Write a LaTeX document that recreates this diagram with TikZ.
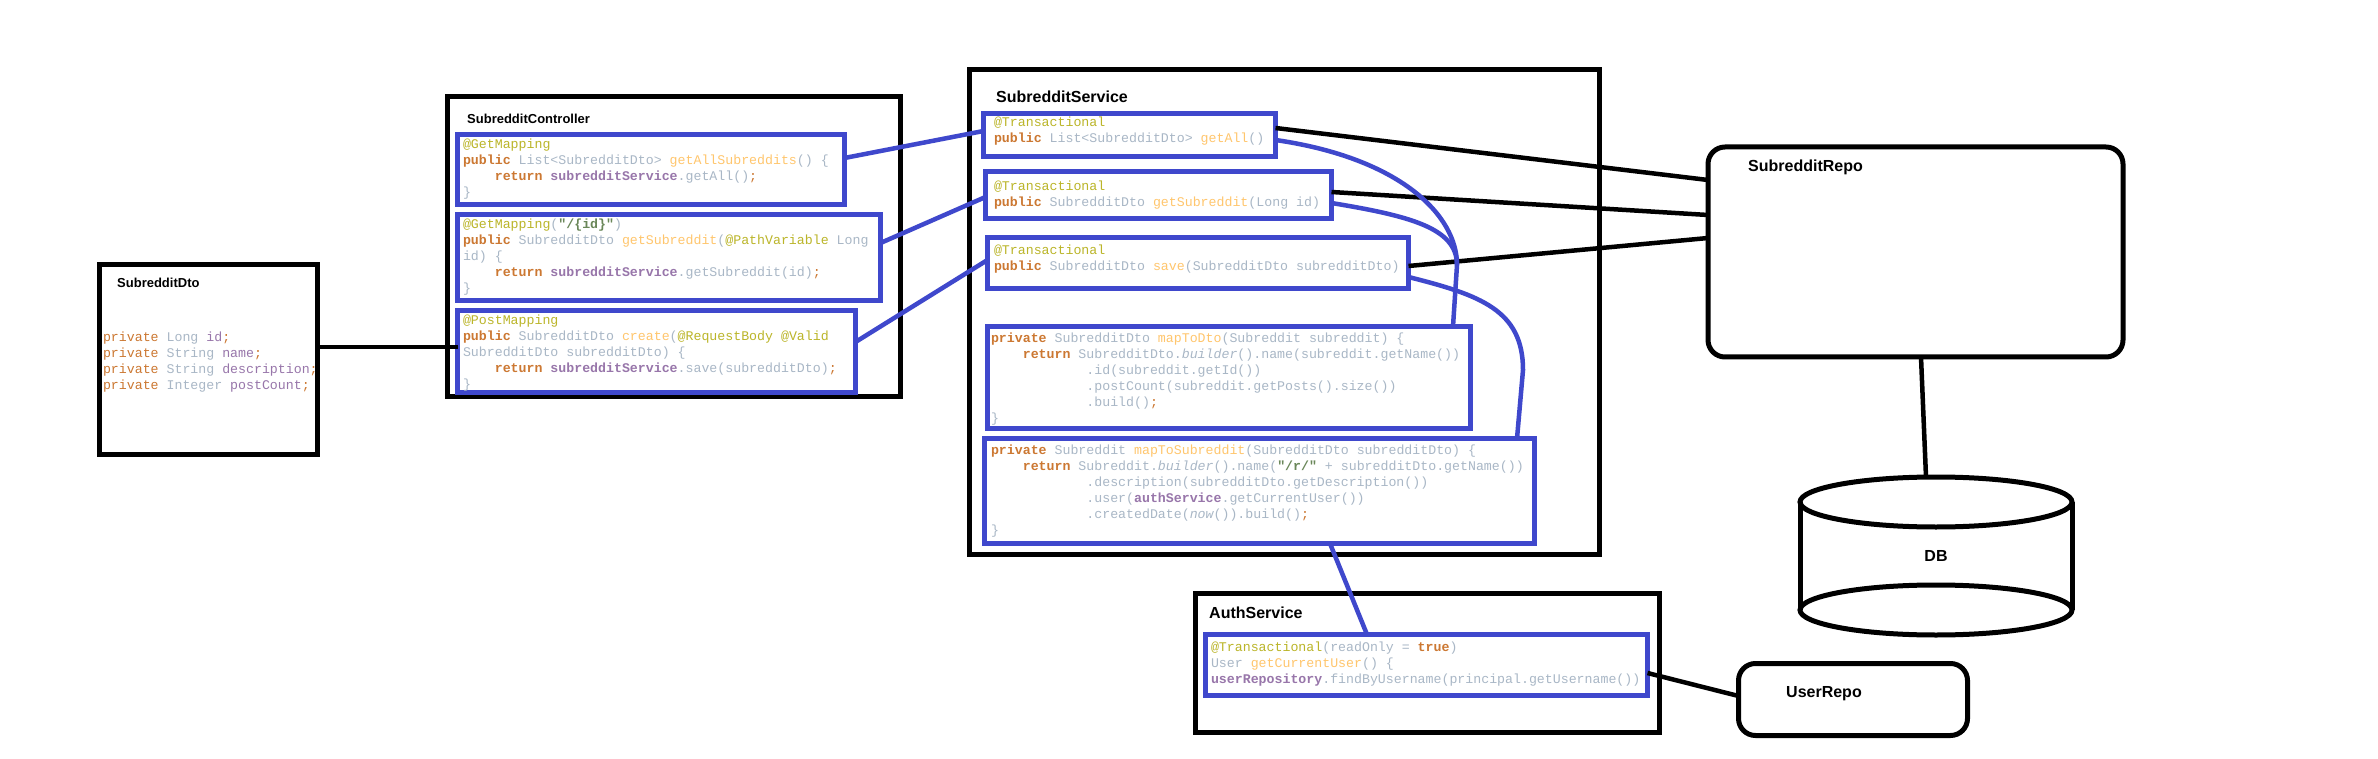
\documentclass[tikz,border=0pt]{standalone}
\usepackage{fontspec}
\setsansfont{Liberation Sans}
\setmonofont{Liberation Mono}
\definecolor{ckw}{HTML}{CC7832}
\definecolor{ctx}{HTML}{A9B7C6}
\definecolor{cfn}{HTML}{FFC66D}
\definecolor{cfd}{HTML}{9876AA}
\definecolor{can}{HTML}{BBB529}
\definecolor{cst}{HTML}{6A8759}
\definecolor{bl}{HTML}{3F48CC}
\newcommand\codefont{\ttfamily\fontsize{13.25}{16}\selectfont}
\newcommand\kwd[1]{{\bfseries\color{ckw}#1}}
\newcommand\kwn[1]{{\color{ckw}#1}}
\newcommand\ann[1]{{\color{can}#1}}
\newcommand\fnc[1]{{\color{cfn}#1}}
\newcommand\fld[1]{{\bfseries\color{cfd}#1}}
\newcommand\fldn[1]{{\color{cfd}#1}}
\newcommand\strg[1]{{\bfseries\color{cst}#1}}
\newcommand\itl[1]{{\itshape#1}}
\newcommand\sem{{\color{ckw};}}
\newcommand\codeind{\hspace*{2.4em}}
\newcommand\codeindd{\hspace*{7.2em}}
\tikzset{
  box/.style={draw=black, line width=5pt, inner sep=0pt, outer sep=0pt, anchor=north west, fill=white},
  rbox/.style={box, rounded corners=17pt},
  bbox/.style={draw=bl, line width=5pt, inner sep=0pt, outer sep=0pt, anchor=north west},
  code/.style={font=\codefont, align=left, inner sep=0pt, outer sep=0pt, anchor=north west, text=ctx},
  ttl/.style={font=\sffamily\bfseries\fontsize{16}{19}\selectfont, anchor=west, inner sep=0pt},
  ttls/.style={font=\sffamily\bfseries\fontsize{13}{16}\selectfont, anchor=west, inner sep=0pt},
  conn/.style={draw=black, line width=4.5pt},
  bconn/.style={draw=bl, line width=4.5pt},
  cyl/.style={draw=black, line width=5pt}
}
\begin{document}
\begin{tikzpicture}[x=1pt,y=-1pt]
\path[use as bounding box, fill=white] (0,0) rectangle (2378,759);

% outer boxes
\node[box, minimum width=218pt, minimum height=190pt] (dto) at (99.5,264.5) {};
\node[box, minimum width=453pt, minimum height=300pt] (ctrl) at (447.5,96.5) {};
\node[box, minimum width=630pt, minimum height=485pt] (svc) at (969.5,69.5) {};
\node[rbox, minimum width=415pt, minimum height=210pt] (repo) at (1708,147) {};
\node[box, minimum width=464pt, minimum height=139pt] (auth) at (1195.5,593.5) {};
\node[rbox, minimum width=229pt, minimum height=72pt] (urepo) at (1738.5,663.5) {};

% DB cylinder
\node[inner sep=0pt, outer sep=0pt, minimum width=272pt, minimum height=158pt,
      font=\sffamily\bfseries\fontsize{16}{19}\selectfont] (db) at (1936,556) {DB};
\draw[cyl] ([yshift=-25pt]db.north) ellipse [x radius=136pt, y radius=25pt];
\draw[cyl] ([yshift=25pt]db.south) ellipse [x radius=136pt, y radius=25pt];
\draw[cyl] ([yshift=-25pt]db.north west) -- ([yshift=25pt]db.south west);
\draw[cyl] ([yshift=-25pt]db.north east) -- ([yshift=25pt]db.south east);

% blue method boxes
\node[bbox, minimum width=387pt, minimum height=70pt] (cb1) at (457.5,134.5) {};
\node[bbox, minimum width=423pt, minimum height=86pt] (cb2) at (457.5,214.5) {};
\node[bbox, minimum width=398pt, minimum height=82pt] (cb3) at (457.5,310.5) {};
\node[bbox, minimum width=292pt, minimum height=43pt] (sb1) at (983.5,113.5) {};
\node[bbox, minimum width=346pt, minimum height=47pt] (sb2) at (985.5,171.5) {};
\node[bbox, minimum width=421pt, minimum height=51pt] (sb3) at (987.5,237.5) {};
\node[bbox, minimum width=483pt, minimum height=102pt] (sb4) at (987.5,326.5) {};
\node[bbox, minimum width=550pt, minimum height=105pt] (sb5) at (984.5,438.5) {};
\node[bbox, minimum width=442pt, minimum height=61pt] (ab) at (1205.5,634.5) {};

% connectors
\draw[conn] ([yshift=12.5pt]dto.east) -- ([yshift=4.5pt]cb3.west);
\draw[bconn] ([yshift=11.5pt]cb1.east) -- ([yshift=4pt]sb1.west);
\draw[bconn] ([yshift=14.5pt]cb2.east) -- ([yshift=-2pt]sb2.west);
\draw[bconn] ([yshift=9.5pt]cb3.east) -- ([yshift=3pt]sb3.west);
\draw[conn] ([yshift=7pt]sb1.east) -- ([yshift=72pt]repo.west);
\draw[conn] ([yshift=3pt]sb2.east) -- ([yshift=37pt]repo.west);
\draw[conn] ([yshift=-3pt]sb3.east) -- ([yshift=14pt]repo.west);
\draw[conn] ([xshift=5.5pt]repo.south) -- ([xshift=-10pt]db.north);
\coordinate (m1) at (1457,265);
\coordinate (m2) at (1523,370);
\draw[bconn] ([yshift=-5pt]sb1.east) .. controls (1400,158) and (1457,215) .. (m1) -- ([xshift=224pt]sb4.north);
\draw[bconn] ([yshift=-8pt]sb2.east) .. controls (1410,216) and (1457,228) .. (m1);
\draw[bconn] ([yshift=-14pt]sb3.east) .. controls (1480,295) and (1523,310) .. (m2) -- ([xshift=257.5pt]sb5.north);
\draw[bconn] ([xshift=70.5pt]sb5.south) -- ([xshift=-59.5pt]ab.north);
\draw[conn] ([yshift=-8pt]ab.east) -- ([yshift=3.5pt]urepo.west);

% titles
\node[ttls] (dtoT) at (117,283) {SubredditDto};
\node[ttls] (ctrlT) at (467,119) {SubredditController};
\node[ttl] (svcT) at (996,97) {SubredditService};
\node[ttl] (repoT) at (1748,167) {SubredditRepo};
\node[ttl] (authT) at (1209,613) {AuthService};
\node[ttl] (urepoT) at (1786,694) {UserRepo};

% code
\node[code] (dtoC) at (103,330.3) {\strut\kwn{private} Long \fldn{id}\sem\\
\kwn{private} String \fldn{name}\sem\\
\kwn{private} String \fldn{description}\sem\\
\kwn{private} Integer \fldn{postCount}\sem};

\node[code] (cb1C) at (463,137.3) {\strut\ann{@GetMapping}\\
\kwd{public} List<SubredditDto> \fnc{getAllSubreddits}() \{\\
\codeind\kwd{return} \fld{subredditService}.getAll()\sem\\
\}};

\node[code] (cb2C) at (463,217.3) {\strut\ann{@GetMapping}(\strg{"/\{id\}"})\\
\kwd{public} SubredditDto \fnc{getSubreddit}(\ann{@PathVariable} Long\\
id) \{\\
\codeind\kwd{return} \fld{subredditService}.getSubreddit(id)\sem\\
\}};

\node[code] (cb3C) at (463,313.3) {\strut\ann{@PostMapping}\\
\kwd{public} SubredditDto \fnc{create}(\ann{@RequestBody} \ann{@Valid}\\
SubredditDto subredditDto) \{\\
\codeind\kwd{return} \fld{subredditService}.save(subredditDto)\sem\\
\}};

\node[code] (sb1C) at (994,115.3) {\strut\ann{@Transactional}\\
\kwd{public} List<SubredditDto> \fnc{getAll}()};

\node[code] (sb2C) at (994,179.3) {\strut\ann{@Transactional}\\
\kwd{public} SubredditDto \fnc{getSubreddit}(Long id)};

\node[code] (sb3C) at (994,243.3) {\strut\ann{@Transactional}\\
\kwd{public} SubredditDto \fnc{save}(SubredditDto subredditDto)};

\node[code] (sb4C) at (991,331.3) {\strut\kwd{private} SubredditDto \fnc{mapToDto}(Subreddit subreddit) \{\\
\codeind\kwd{return} SubredditDto.\itl{builder}().name(subreddit.getName())\\
\codeindd.id(subreddit.getId())\\
\codeindd.postCount(subreddit.getPosts().size())\\
\codeindd.build()\sem\\
\}};

\node[code] (sb5C) at (991,443.3) {\strut\kwd{private} Subreddit \fnc{mapToSubreddit}(SubredditDto subredditDto) \{\\
\codeind\kwd{return} Subreddit.\itl{builder}().name(\strg{"/r/"} + subredditDto.getName())\\
\codeindd.description(subredditDto.getDescription())\\
\codeindd.user(\fld{authService}.getCurrentUser())\\
\codeindd.createdDate(\itl{now}()).build()\sem\\
\}};

\node[code] (abC) at (1211,640.3) {\strut\ann{@Transactional}(readOnly = \kwd{true})\\
User \fnc{getCurrentUser}() \{\\
\fld{userRepository}.findByUsername(principal.getUsername())};
\end{tikzpicture}
\end{document}
